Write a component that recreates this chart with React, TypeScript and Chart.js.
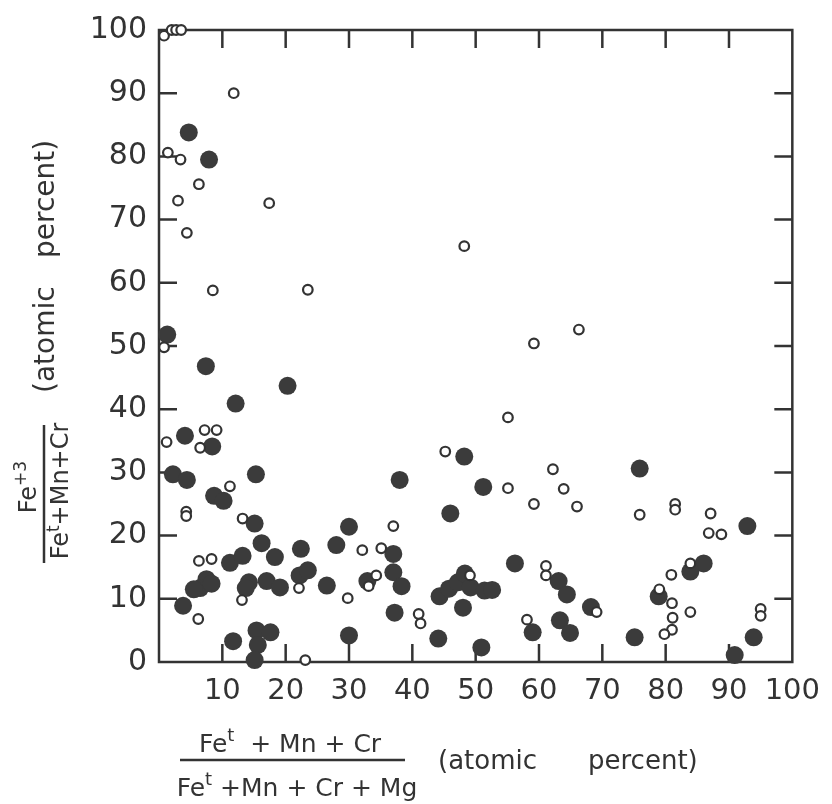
import React, { useEffect, useRef } from 'react';
import { Chart, registerables } from 'chart.js';

Chart.register(...registerables);

// Filled circles (x, y in atomic percent)
const solidX = [
  4.7, 7.9, 1.3, 7.4, 20.3, 12.1, 4.1, 8.4, 2.2, 4.4, 15.3, 8.7, 10.2, 15.1, 16.2, 18.3, 22.4, 28.0, 30.0,
  11.2, 13.2, 7.5, 6.5, 5.5, 8.3, 3.8, 14.2, 13.7, 17.0, 19.1, 22.2, 23.5, 26.5, 11.7, 15.4, 17.6, 15.6, 15.1,
  30.0, 38.0, 48.2, 51.2, 46.0, 37.0, 37.0, 38.3, 32.9, 37.2, 44.1, 50.9, 44.3, 45.8, 47.2, 48.3, 49.2, 51.4,
  52.6, 48.0, 56.2, 63.1, 64.4, 63.3, 64.9, 59.0, 68.2, 75.9, 92.9, 86.0, 83.9, 78.9, 75.1, 93.9, 90.9,
];
const solidY = [
  83.8, 79.5, 51.8, 46.8, 43.7, 40.9, 35.8, 34.1, 29.7, 28.8, 29.7, 26.3, 25.5, 21.9, 18.8, 16.6, 17.9, 18.5, 21.4,
  15.7, 16.8, 13.1, 11.7, 11.5, 12.4, 8.9, 12.6, 11.7, 12.8, 11.8, 13.7, 14.5, 12.1, 3.3, 5.0, 4.7, 2.7, 0.3,
  4.2, 28.8, 32.5, 27.7, 23.5, 17.1, 14.2, 12.0, 12.8, 7.8, 3.7, 2.3, 10.4, 11.6, 12.6, 14.0, 11.8, 11.3,
  11.4, 8.6, 15.6, 12.8, 10.7, 6.6, 4.6, 4.7, 8.7, 30.6, 21.5, 15.6, 14.3, 10.4, 3.9, 3.9, 1.1,
];

// Open circles
const openX = [
  0.8, 2.0, 2.7, 3.5, 11.8, 1.4, 3.4, 6.3, 3.0, 17.4, 4.4, 8.5, 23.5, 0.8, 7.2, 9.1, 1.2, 6.5, 11.2, 4.3, 4.3,
  13.2, 6.3, 8.3, 6.2, 13.1, 22.1, 29.8, 23.1, 48.2, 59.2, 66.3, 55.1, 45.2, 55.1, 62.2, 63.9, 59.2, 37.0, 32.1,
  35.1, 34.3, 33.1, 41.0, 41.3, 49.1, 61.1, 61.1, 58.1, 66.0, 75.9, 81.5, 81.5, 87.1, 86.8, 88.8, 83.9, 80.9,
  79.0, 81.0, 81.1, 83.9, 81.0, 79.8, 95.0, 95.0, 69.1,
];
const openY = [
  99.1, 100, 100, 100, 90.0, 80.6, 79.5, 75.6, 73.0, 72.6, 67.9, 58.8, 58.9, 49.8, 36.7, 36.7, 34.8, 33.9, 27.8, 23.8, 23.1,
  22.7, 16.0, 16.3, 6.8, 9.8, 11.7, 10.1, 0.3, 65.8, 50.4, 52.6, 38.7, 33.3, 27.5, 30.5, 27.4, 25.0, 21.5, 17.7,
  18.0, 13.7, 12.0, 7.6, 6.1, 13.7, 15.2, 13.7, 6.7, 24.6, 23.3, 25.0, 24.1, 23.5, 20.4, 20.2, 15.6, 13.8,
  11.5, 9.3, 7.0, 7.9, 5.1, 4.4, 8.4, 7.3, 7.9,
];

const tickValues = [0, 10, 20, 30, 40, 50, 60, 70, 80, 90, 100];

const INK = '#333333';
const DOT = '#3b3b3b';
const FAM = '"DejaVu Sans", sans-serif';

type Piece = { t: string; size: number; rise?: number };

function runWidth(ctx: CanvasRenderingContext2D, pieces: Piece[]) {
  let w = 0;
  for (const p of pieces) {
    ctx.font = `${p.size}px ${FAM}`;
    w += ctx.measureText(p.t).width;
  }
  return w;
}

function drawRun(ctx: CanvasRenderingContext2D, pieces: Piece[], cx: number, baseline: number) {
  let x = cx - runWidth(ctx, pieces) / 2;
  ctx.textAlign = 'left';
  ctx.textBaseline = 'alphabetic';
  for (const p of pieces) {
    ctx.font = `${p.size}px ${FAM}`;
    ctx.fillText(p.t, x, baseline - (p.rise || 0));
    x += ctx.measureText(p.t).width;
  }
}

const framePlugin = {
  id: 'frame',
  beforeDatasetsDraw(chart: any) {
    const { ctx, chartArea, scales } = chart;
    const { left, right, top, bottom } = chartArea;
    const L = 18;
    ctx.save();
    ctx.strokeStyle = INK;
    ctx.lineWidth = 2.5;
    ctx.lineCap = 'square';
    ctx.strokeRect(left, top, right - left, bottom - top);
    ctx.lineCap = 'butt';
    ctx.beginPath();
    for (const v of tickValues) {
      if (v === 0 || v === 100) continue;
      const px = scales.x.getPixelForValue(v);
      ctx.moveTo(px, bottom);
      ctx.lineTo(px, bottom - L);
      ctx.moveTo(px, top);
      ctx.lineTo(px, top + L);
      const py = scales.y.getPixelForValue(v);
      ctx.moveTo(left, py);
      ctx.lineTo(left + L, py);
      ctx.moveTo(right, py);
      ctx.lineTo(right - L, py);
    }
    ctx.stroke();
    ctx.restore();
  },
  afterDraw(chart: any) {
    const ctx: CanvasRenderingContext2D = chart.ctx;
    ctx.save();
    ctx.fillStyle = INK;
    ctx.strokeStyle = INK;
    ctx.lineWidth = 2.5;

    // X axis title (fraction)
    drawRun(ctx, [
      { t: 'Fe', size: 25 },
      { t: 't', size: 18, rise: 11 },
      { t: '  + Mn + Cr', size: 25 },
    ], 290, 752);
    ctx.beginPath();
    ctx.moveTo(180, 760);
    ctx.lineTo(405, 760);
    ctx.stroke();
    drawRun(ctx, [
      { t: 'Fe', size: 25 },
      { t: 't', size: 18, rise: 11 },
      { t: ' +Mn + Cr + Mg', size: 25 },
    ], 297, 796);
    ctx.font = `26px ${FAM}`;
    ctx.textAlign = 'left';
    ctx.fillText('(atomic', 438, 769);
    ctx.fillText('percent)', 588, 769);

    // Y axis title (rotated)
    ctx.beginPath();
    ctx.moveTo(44, 425);
    ctx.lineTo(44, 563);
    ctx.stroke();
    ctx.save();
    ctx.rotate(-Math.PI / 2);
    // local (u, v) -> page (v, -u)
    drawRun(ctx, [
      { t: 'Fe', size: 24 },
      { t: '+3', size: 17, rise: 10 },
    ], -487, 36);
    drawRun(ctx, [
      { t: 'Fe', size: 24 },
      { t: 't', size: 17, rise: 9 },
      { t: '+Mn+Cr', size: 24 },
    ], -491, 68);
    ctx.font = `28px ${FAM}`;
    ctx.textAlign = 'left';
    ctx.fillText('(atomic', -393, 54);
    ctx.fillText('percent)', -258, 54);
    ctx.restore();

    ctx.restore();
  },
};

export default function App() {
  const ref = useRef<HTMLCanvasElement | null>(null);

  useEffect(() => {
    document.body.style.margin = '0';
    document.body.style.overflow = 'hidden';
    const canvas = ref.current;
    if (!canvas) return;
    const chart = new Chart(canvas, {
      type: 'scatter',
      data: {
        datasets: [
          {
            label: 'open',
            data: openX.map((x, i) => ({ x, y: openY[i] })),
            pointRadius: 4.8,
            pointHoverRadius: 4.8,
            pointBorderWidth: 2.2,
            pointBackgroundColor: '#ffffff',
            pointBorderColor: INK,
            clip: false as any,
          },
          {
            label: 'solid',
            data: solidX.map((x, i) => ({ x, y: solidY[i] })),
            pointRadius: 9,
            pointHoverRadius: 9,
            pointBorderWidth: 0,
            pointBackgroundColor: DOT,
            pointBorderColor: DOT,
            clip: false as any,
          },
        ],
      },
      options: {
        responsive: false,
        animation: false,
        devicePixelRatio: 1,
        events: [],
        layout: { padding: { top: 20, right: 36, left: 0, bottom: 0 }, autoPadding: false } as any,
        plugins: { legend: { display: false }, tooltip: { enabled: false } },
        scales: {
          x: {
            type: 'linear',
            position: 'bottom',
            min: 0,
            max: 100,
            grid: { display: false, drawTicks: false },
            border: { display: false },
            afterFit: (s: any) => { s.height = 804 - 662; },
            ticks: {
              stepSize: 10,
              maxRotation: 0,
              padding: 12,
              color: INK,
              font: { family: FAM, size: 29 },
              callback: (v: any) => (Number(v) === 0 ? '' : String(v)),
            },
          },
          y: {
            type: 'linear',
            min: 0,
            max: 100,
            grid: { display: false, drawTicks: false },
            border: { display: false },
            afterFit: (s: any) => { s.width = 159; },
            ticks: {
              stepSize: 10,
              padding: 12,
              color: INK,
              font: { family: FAM, size: 30 },
            },
          },
        },
      },
      plugins: [framePlugin],
    });
    return () => chart.destroy();
  }, []);

  return (
    <div style={{ width: 832, height: 804 }}>
      <canvas ref={ref} width={832} height={804} style={{ display: 'block', width: 832, height: 804 }} />
    </div>
  );
}
